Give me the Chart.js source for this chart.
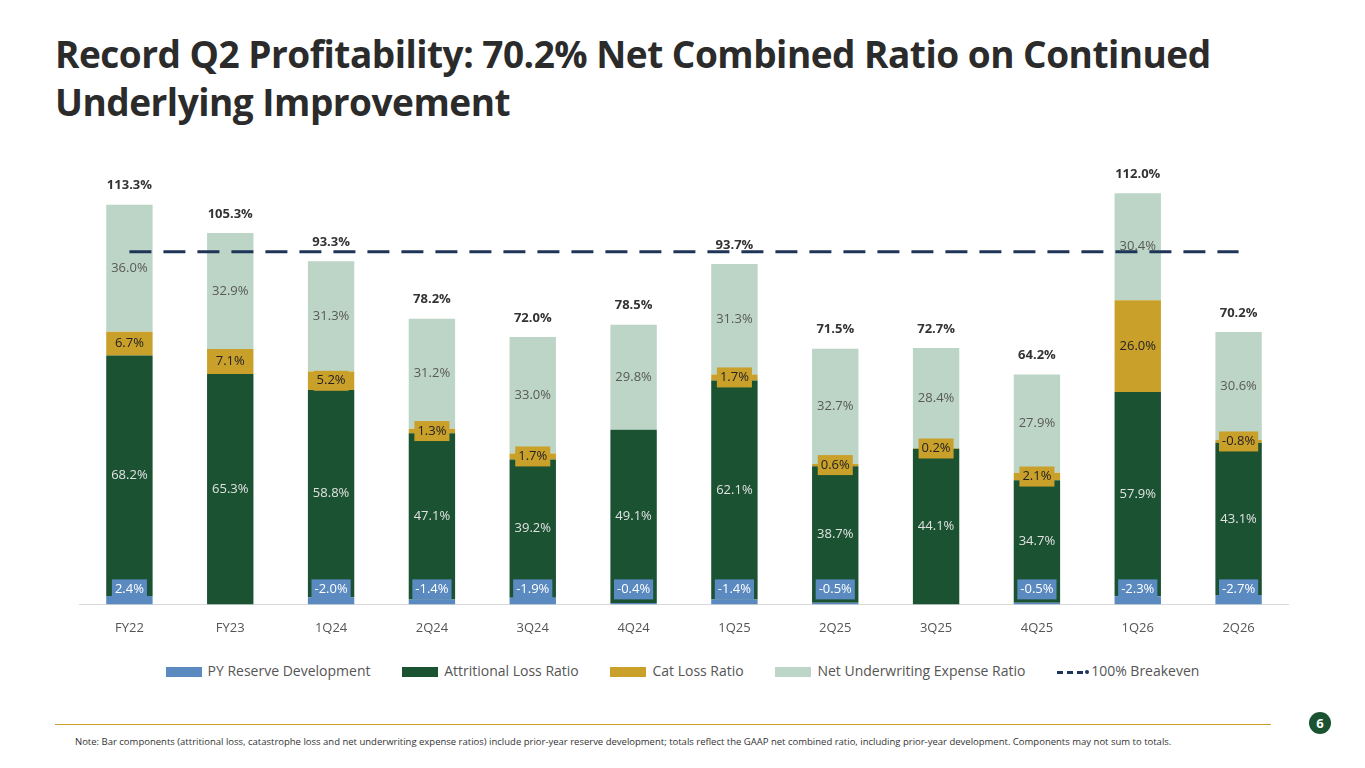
<!DOCTYPE html>
<html>
<head>
<meta charset="utf-8">
<script src="https://cdn.jsdelivr.net/npm/chart.js@4.4.0/dist/chart.umd.min.js"></script>
<style>
  body { margin: 0; width: 1365px; height: 768px; background: #fff; font-family: "Open Sans", sans-serif; position: relative; overflow: hidden; }
  h1 { position: absolute; left: 55px; top: 30px; margin: 0; font-size: 37px; line-height: 48px; font-weight: 700; color: #2b2b2b; letter-spacing: -0.5px; width: 1250px; }
  #wrap { position: absolute; left: 79px; top: 160px; width: 1210px; height: 484px; }
  #legend { position: absolute; top: 659px; left: 0; width: 1365px; text-align: center; font-size: 14px; color: #555; }
  #legend span.item { display: inline-block; margin: 0 14px; vertical-align: middle; }
  #legend i { display: inline-block; width: 36px; height: 10px; margin-right: 6px; vertical-align: middle; }
  #rule { position: absolute; left: 55px; top: 724px; width: 1216px; height: 1px; background: #c9a02a; }
  #badge { position: absolute; left: 1309px; top: 712px; width: 22px; height: 22px; border-radius: 50%; background: #1a5232; color: #fff; font-weight: 700; font-size: 13px; text-align: center; line-height: 22px; }
  #note { position: absolute; left: 75px; top: 735px; font-size: 9.5px; color: #333; }
</style>
</head>
<body>
<h1>Record Q2 Profitability: 70.2% Net Combined Ratio on Continued Underlying Improvement</h1>
<div id="wrap"><canvas id="c"></canvas></div>
<div id="legend">
  <span class="item"><i style="background:#5a8ac0"></i>PY Reserve Development</span>
  <span class="item"><i style="background:#1a5232"></i>Attritional Loss Ratio</span>
  <span class="item"><i style="background:#c9a02a"></i>Cat Loss Ratio</span>
  <span class="item"><i style="background:#bdd5c6"></i>Net Underwriting Expense Ratio</span>
  <span class="item"><i style="background:none;border-top:3px dashed #1f3557;height:0;width:26px;margin-right:2px"></i><b style="display:inline-block;width:4px;height:4px;border-radius:50%;background:#1f3557;margin-right:2px;vertical-align:middle"></b>100% Breakeven</span>
</div>
<div id="rule"></div>
<div id="badge">6</div>
<div id="note">Note: Bar components (attritional loss, catastrophe loss and net underwriting expense ratios) include prior-year reserve development; totals reflect the GAAP net combined ratio, including prior-year development. Components may not sum to totals.</div>
<script>
const categories = ["FY22", "FY23", "1Q24", "2Q24", "3Q24", "4Q24", "1Q25", "2Q25", "3Q25", "4Q25", "1Q26", "2Q26"];
const pyReserve = [2.4, 0, -2.0, -1.4, -1.9, -0.4, -1.4, -0.5, 0, -0.5, -2.3, -2.7];
const attritional = [68.2, 65.3, 58.8, 47.1, 39.2, 49.1, 62.1, 38.7, 44.1, 34.7, 57.9, 43.1];
const catLoss = [6.7, 7.1, 5.2, 1.3, 1.7, 0, 1.7, 0.6, 0.2, 2.1, 26.0, -0.8];
const expense = [36.0, 32.9, 31.3, 31.2, 33.0, 29.8, 31.3, 32.7, 28.4, 27.9, 30.4, 30.6];
const totals = [113.3, 105.3, 93.3, 78.2, 72.0, 78.5, 93.7, 71.5, 72.7, 64.2, 112.0, 70.2];
const breakeven = categories.map(() => 100);

const FONT = "Open Sans";
const fmt = (v) => v.toFixed(1) + "%";

const labelPlugin = {
  id: "segLabels",
  afterDatasetsDraw(chart) {
    const ctx = chart.ctx;
    ctx.save();
    ctx.textAlign = "center";
    ctx.textBaseline = "middle";
    ctx.font = "13px '" + FONT + "'";
    const raw = [pyReserve, attritional, catLoss, expense];
    const bottom = chart.chartArea.bottom;
    for (let d = 0; d < 4; d++) {
      const meta = chart.getDatasetMeta(d);
      meta.data.forEach((bar, i) => {
        const v = raw[d][i];
        if (!v) return;
        const txt = fmt(v);
        let y = (bar.y + bar.base) / 2;
        if (d === 0) {
          y = bottom - 15;
        }
        if (d === 0 || d === 2) {
          const w = ctx.measureText(txt).width + 6;
          ctx.fillStyle = d === 0 ? "#5a8ac0" : "#c9a02a";
          ctx.fillRect(bar.x - w / 2, y - 10, w, 20);
          ctx.fillStyle = d === 0 ? "#ffffff" : "#222222";
        } else {
          ctx.fillStyle = d === 1 ? "#e2e2e2" : "#595959";
        }
        ctx.fillText(txt, bar.x, y);
      });
    }
    ctx.font = "bold 13px '" + FONT + "'";
    ctx.fillStyle = "#333";
    const top = chart.getDatasetMeta(3).data;
    top.forEach((bar, i) => {
      ctx.fillText(fmt(totals[i]), bar.x, bar.y - 19);
    });
    ctx.restore();
  }
};

new Chart(document.getElementById("c"), {
  data: {
    labels: categories,
    datasets: [
      { type: "bar", label: "PY Reserve Development", data: pyReserve.map(Math.abs), backgroundColor: "#5a8ac0" },
      { type: "bar", label: "Attritional Loss Ratio", data: attritional, backgroundColor: "#1a5232" },
      { type: "bar", label: "Cat Loss Ratio", data: catLoss.map(Math.abs), backgroundColor: "#c9a02a" },
      { type: "bar", label: "Net Underwriting Expense Ratio", data: expense, backgroundColor: "#bdd5c6" },
      { type: "line", label: "100% Breakeven", data: breakeven, borderColor: "#1f3557", borderWidth: 3, borderDash: [22, 12], pointRadius: 0, stack: "line", order: -1 }
    ]
  },
  options: {
    responsive: true,
    maintainAspectRatio: false,
    animation: false,
    datasets: { bar: { barPercentage: 0.46, categoryPercentage: 1 } },
    layout: { padding: 0 },
    plugins: { legend: { display: false }, tooltip: { enabled: false } },
    scales: {
      x: {
        stacked: true,
        grid: { display: false },
        border: { display: true, color: "#d9d9d9" },
        ticks: { color: "#555", font: { family: FONT, size: 13 }, padding: 8 }
      },
      y: { stacked: true, display: false, min: 0, max: 126 }
    }
  },
  plugins: [labelPlugin]
});
</script>
</body>
</html>
